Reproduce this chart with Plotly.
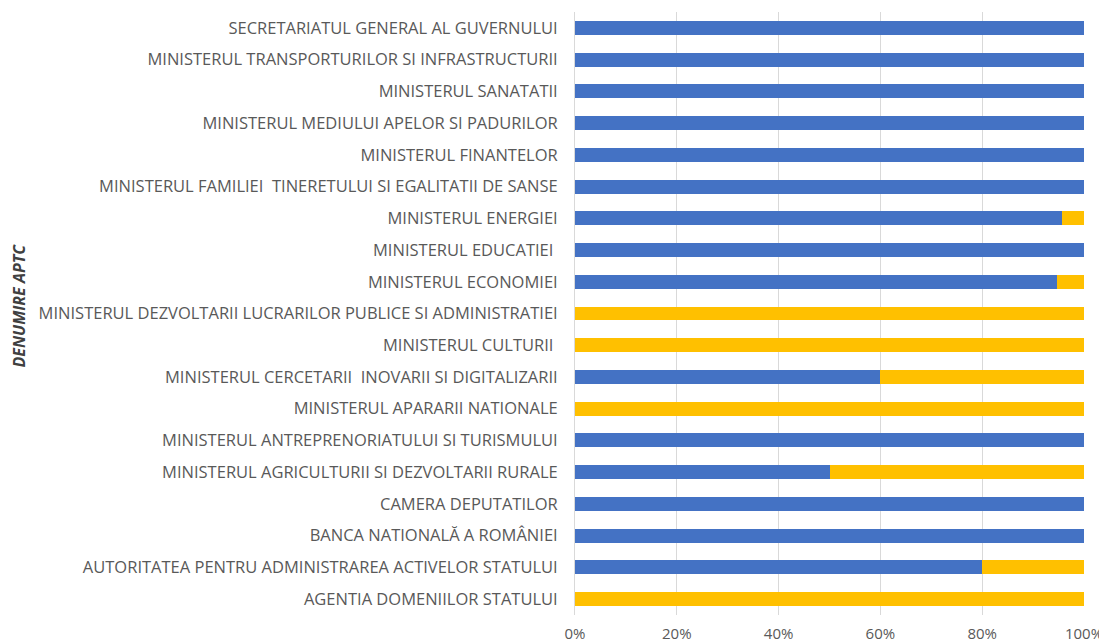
import plotly.graph_objects as go

categories = [
    "AGENTIA DOMENIILOR STATULUI",
    "AUTORITATEA PENTRU ADMINISTRAREA ACTIVELOR STATULUI",
    "BANCA NATIONALĂ A ROMÂNIEI",
    "CAMERA DEPUTATILOR",
    "MINISTERUL AGRICULTURII SI DEZVOLTARII RURALE",
    "MINISTERUL ANTREPRENORIATULUI SI TURISMULUI",
    "MINISTERUL APARARII NATIONALE",
    "MINISTERUL CERCETARII  INOVARII SI DIGITALIZARII",
    "MINISTERUL CULTURII ",
    "MINISTERUL DEZVOLTARII LUCRARILOR PUBLICE SI ADMINISTRATIEI",
    "MINISTERUL ECONOMIEI",
    "MINISTERUL EDUCATIEI ",
    "MINISTERUL ENERGIEI",
    "MINISTERUL FAMILIEI  TINERETULUI SI EGALITATII DE SANSE",
    "MINISTERUL FINANTELOR",
    "MINISTERUL MEDIULUI APELOR SI PADURILOR",
    "MINISTERUL SANATATII",
    "MINISTERUL TRANSPORTURILOR SI INFRASTRUCTURII",
    "SECRETARIATUL GENERAL AL GUVERNULUI",
]
blue_share = [0, 80, 100, 100, 50, 100, 0, 60, 0, 0, 94.7, 100, 95.7, 100, 100, 100, 100, 100, 100]
yellow_share = [100, 20, 0, 0, 50, 0, 100, 40, 100, 100, 5.3, 0, 4.3, 0, 0, 0, 0, 0, 0]
x_ticks = [0, 20, 40, 60, 80, 100]
x_tick_labels = ["0%", "20%", "40%", "60%", "80%", "100%"]

FONT = "Open Sans, sans-serif"

fig = go.Figure()
fig.add_trace(go.Bar(y=categories, x=blue_share, orientation="h", name="Da",
                     marker=dict(color="#4472C4", line=dict(width=0)), width=0.44))
fig.add_trace(go.Bar(y=categories, x=yellow_share, orientation="h", name="Nu",
                     marker=dict(color="#FFC000", line=dict(width=0)), width=0.44))

fig.update_layout(
    barmode="stack",
    width=1107, height=644,
    margin=dict(l=567, r=31, t=4, b=37),
    paper_bgcolor="white", plot_bgcolor="white",
    showlegend=False,
    font=dict(family=FONT, size=16.5, color="#595959"),
    bargap=0.56,
)
fig.update_xaxes(range=[0, 100], tickvals=x_ticks, ticktext=x_tick_labels,
                 showgrid=True, gridcolor="#D9D9D9", gridwidth=1, zeroline=False,
                 showline=False, ticks="outside", ticklen=5, tickcolor="rgba(0,0,0,0)",
                 automargin=False, tickfont=dict(size=15, color="#595959"))
fig.update_yaxes(categoryorder="array", categoryarray=categories,
                 range=[-0.5, 18.5], showgrid=False, zeroline=False,
                 showline=True, linecolor="#D9D9D9", linewidth=1,
                 ticks="outside", ticklen=13, tickcolor="rgba(0,0,0,0)",
                 automargin=False, tickfont=dict(size=16.5, color="#595959"))
fig.add_annotation(text="<b><i>DENUMIRE APTC</i></b>", xref="paper", yref="paper",
                   x=0, xshift=-557, xanchor="center", y=0.5, yshift=8, yanchor="middle",
                   textangle=-90, showarrow=False,
                   font=dict(family=FONT, size=16, color="#404040"))

fig.write_html("out.html")
